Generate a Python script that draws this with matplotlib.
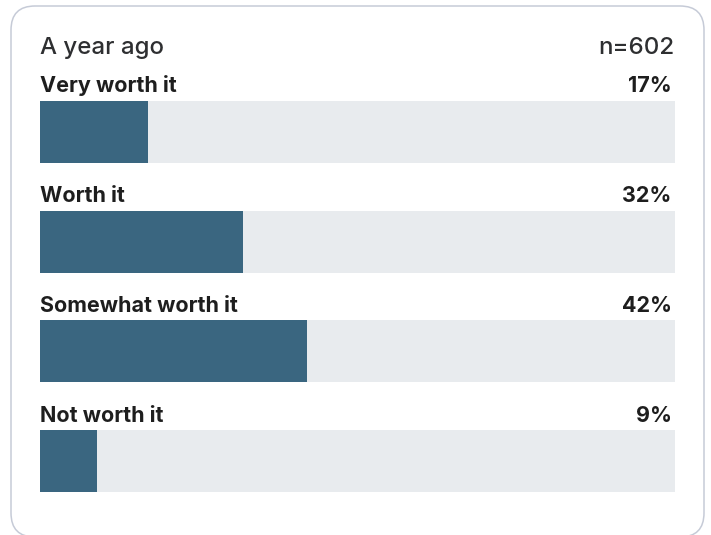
"""Horizontal progress-style bar card: how worthwhile respondents found it a year ago."""

import matplotlib

matplotlib.use("Agg")

import matplotlib.pyplot as plt
from matplotlib.patches import FancyBboxPatch

categories = ["Very worth it", "Worth it", "Somewhat worth it", "Not worth it"]
shares = [17, 32, 42, 9]
panel_title = "A year ago"
sample_label = "n=602"

FIG_W, FIG_H = 711, 535
BAR_COLOR = "#3a6680"
TRACK_COLOR = "#e8ebee"
TEXT_COLOR = "#1e1e1e"
TITLE_COLOR = "#2e2f31"

plt.rcParams["font.family"] = ["Inter", "DejaVu Sans"]

fig = plt.figure(figsize=(FIG_W / 100, FIG_H / 100), dpi=100)
fig.patch.set_facecolor("white")

# rounded card outline, in pixel units
card_ax = fig.add_axes([0, 0, 1, 1])
card_ax.set_xlim(0, FIG_W)
card_ax.set_ylim(FIG_H, 0)
card_ax.axis("off")
card_ax.add_patch(FancyBboxPatch(
    (11, 6), 693, 531,
    boxstyle="round,pad=0,rounding_size=24",
    facecolor="white", edgecolor="#c6cbd7", linewidth=1.1,
))

# bar area: x in percent, y in pixels from the top
left_px, right_px = 40, 675
ax = fig.add_axes([left_px / FIG_W, 0, (right_px - left_px) / FIG_W, 1])
ax.set_xlim(0, 100)
ax.set_ylim(FIG_H, 0)
ax.axis("off")

first_top, step, bar_h = 101, 109.7, 62
for i, (label, value) in enumerate(zip(categories, shares)):
    top = first_top + i * step
    center = top + bar_h / 2
    ax.barh(center, 100, height=bar_h, color=TRACK_COLOR, linewidth=0)
    ax.barh(center, value, height=bar_h, color=BAR_COLOR, linewidth=0)
    ax.text(0, top - 8.5, label, ha="left", va="baseline",
            fontsize=15.5, fontweight="bold", color=TEXT_COLOR)
    ax.text(99.5, top - 8.5, f"{value}%", ha="right", va="baseline",
            fontsize=15.5, fontweight="bold", color=TEXT_COLOR)

ax.text(0, 54, panel_title, ha="left", va="baseline",
        fontsize=17.3, fontweight="medium", color=TITLE_COLOR)
ax.text(100, 54, sample_label, ha="right", va="baseline",
        fontsize=17.3, fontweight="medium", color=TITLE_COLOR)

fig.savefig("out.png", dpi=100)
